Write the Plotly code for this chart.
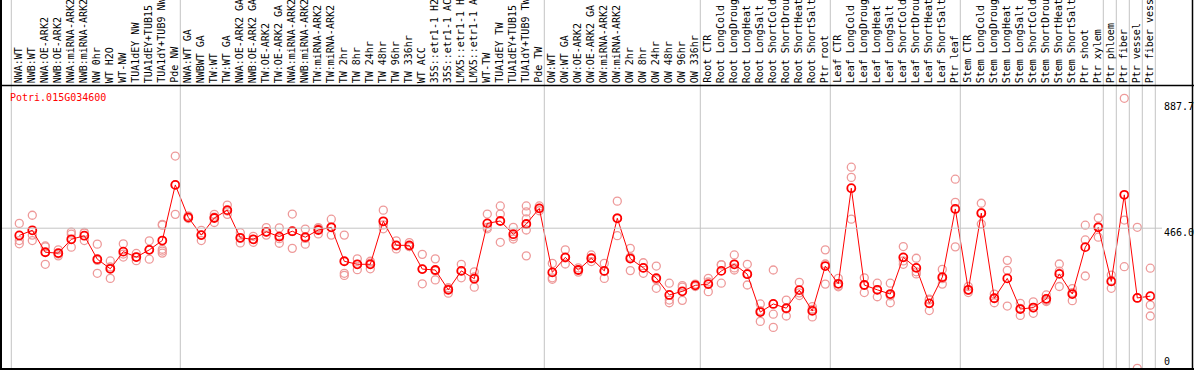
import plotly.graph_objects as go

gene = "Potri.015G034600"

labels = [
    "NWA:WT", "NWB:WT", "NWA:OE-ARK2", "NWB:OE-ARK2", "NWA:miRNA-ARK2", "NWB:miRNA-ARK2",
    "NW 0hr", "WT H2O", "WT-NW", "TUA1dEY NW", "TUA1dEY+TUB15", "TUA1dY+TUB9 NW", "Pde NW",
    "NWA:WT GA", "NWBWT GA", "TW:WT", "TW:WT GA", "NWA:OE-ARK2 GA", "NWB:OE-ARK2 GA",
    "TW:OE-ARK2", "TW:OE-ARK2 GA", "NWA:miRNA-ARK2 GA", "NWB:miRNA-ARK2 GA", "TW:miRNA-ARK2",
    "TW:miRNA-ARK2", "TW 2hr", "TW 8hr", "TW 24hr", "TW 48hr", "TW 96hr", "TW 336hr", "WT ACC",
    "35S::etr1-1 H2O", "35S::etr1-1 ACC", "LMX5::etr1-1 H2O", "LMX5::etr1-1 ACC", "WT-TW",
    "TUA1dEY TW", "TUA1dEY+TUB15", "TUA1dY+TUB9 TW", "Pde TW",
    "OW:WT", "OW:WT GA", "OW:OE-ARK2", "OW:OE-ARK2 GA", "OW:miRNA-ARK2", "OW:miRNA-ARK2",
    "OW 2hr", "OW 8hr", "OW 24hr", "OW 48hr", "OW 96hr", "OW 336hr",
    "Root CTR", "Root LongCold", "Root LongDrought", "Root LongHeat", "Root LongSalt",
    "Root ShortCold", "Root ShortDrought", "Root ShortHeat", "Root ShortSalt", "Ptr root",
    "Leaf CTR", "Leaf LongCold", "Leaf LongDrought", "Leaf LongHeat", "Leaf LongSalt",
    "Leaf ShortCold", "Leaf ShortDrought", "Leaf ShortHeat", "Leaf ShortSalt", "Ptr leaf",
    "Stem CTR", "Stem LongCold", "Stem LongDrought", "Stem LongHeat", "Stem LongSalt",
    "Stem ShortCold", "Stem ShortDrought", "Stem ShortHeat", "Stem ShortSalt", "Ptr shoot",
    "Ptr xylem", "Ptr phloem", "Ptr fiber", "Ptr vessel", "Ptr fiber vessel",
]

means = [
    442, 459, 386, 383, 429, 441, 363, 331, 388, 370,
    394, 425, 610, 502, 443, 500, 526, 434, 429, 454,
    438, 456, 436, 460, 469, 356, 346, 346, 489, 409,
    409, 330, 327, 261, 324, 298, 482, 490, 446, 480,
    532, 319, 369, 327, 366, 324, 499, 365, 334, 300,
    244, 256, 276, 280, 324, 346, 313, 187, 214, 200,
    260, 191, 340, 281, 599, 277, 261, 247, 369, 334,
    216, 303, 530, 261, 516, 233, 299, 197, 202, 231,
    314, 247, 403, 469, 289, 577, 234, 240,
]

replicates = [
    [482, 425, 414], [509, 443, 425], [407, 404, 346], [394, 380, 374], [453, 446, 403],
    [452, 450, 425], [413, 359, 316], [357, 337, 299], [414, 380, 370], [382, 370, 358],
    [424, 395, 363], [479, 476, 396, 390, 383], [706, 610, 512], [507, 502, 498], [459, 443, 425],
    [512, 503, 485], [543, 523, 512], [451, 432, 417], [439, 429, 419], [468, 453, 443],
    [467, 431, 416], [513, 455, 399], [463, 432, 413], [468, 465, 447], [496, 469, 443],
    [443, 316, 309], [364, 346, 328], [356, 350, 331], [526, 477, 464], [424, 407, 397],
    [418, 405, 405], [379, 330, 281], [364, 324, 294], [268, 264, 250], [346, 324, 301],
    [321, 304, 270], [513, 469, 464], [540, 513, 419], [469, 438, 430], [540, 520, 497, 460, 374],
    [540, 532, 524], [349, 301, 296], [394, 367, 347], [334, 327, 320], [377, 366, 355],
    [349, 322, 299], [556, 500, 441], [399, 370, 325], [351, 334, 316], [340, 295, 266],
    [283, 227, 218], [275, 270, 226], [280, 276, 272], [299, 287, 255], [345, 344, 283],
    [377, 334, 327], [346, 315, 277], [214, 192, 156], [327, 180, 136], [227, 197, 174],
    [286, 251, 242], [205, 196, 171], [394, 347, 280], [299, 274, 271], [669, 635, 496],
    [301, 278, 252], [283, 261, 238], [283, 241, 218], [405, 357, 346], [366, 321, 314],
    [230, 227, 192], [329, 298, 280], [629, 552, 404], [272, 259, 252], [549, 518, 480],
    [247, 233, 218], [359, 326, 207], [216, 199, 176], [221, 201, 183], [244, 226, 222],
    [347, 323, 272], [265, 252, 225], [476, 427, 307], [500, 471, 436], [310, 292, 266],
    [898, 493, 338], [469, 234, 0], [333, 210, 174],
]

group_starts = [0, 13, 41, 53, 63, 73, 84, 85, 86, 87, 88]
y_tick_texts = ["887.7", "466.0", "0"]
ref_line = 466.0

W, H = 1194, 370
FONT = "DejaVu Sans Mono"

x_idx = list(range(len(labels)))
rx, ry = [], []
for i, reps in enumerate(replicates):
    for v in reps:
        rx.append(i)
        ry.append(v)

fig = go.Figure()
fig.add_trace(go.Scatter(
    x=rx, y=ry, mode="markers",
    marker=dict(symbol="circle-open", size=8, color="#ee9a9a", line=dict(width=1.3, color="#ee9a9a")),
    hoverinfo="skip",
))
fig.add_trace(go.Scatter(
    x=x_idx, y=means, mode="lines+markers",
    line=dict(color="#ff0000", width=1),
    marker=dict(symbol="circle-open", size=8, color="#ff0000", line=dict(width=1.8, color="#ff0000")),
))

px_per_col = 13.0
x0_px = 19.3
xr = [(0 - x0_px) / px_per_col, (W - x0_px) / px_per_col]
zero_px = 368.3
val_per_px = 466.0 / (368.3 - 228.2)
y_bottom_px = 368.5
yr = [(zero_px - y_bottom_px) * val_per_px, zero_px * val_per_px]


def py(p):
    return (H - p) / H


shapes = []
gray = "#c4c4c4"
for k in group_starts:
    shapes.append(dict(type="line", xref="x", yref="paper", x0=k - 8 / 13, x1=k - 8 / 13,
                       y0=py(369), y1=1, line=dict(color=gray, width=1)))
shapes.append(dict(type="line", xref="paper", yref="y", x0=1 / W, x1=1162 / W,
                   y0=ref_line, y1=ref_line, line=dict(color=gray, width=1)))
black = "#000000"
shapes.append(dict(type="line", xref="paper", yref="paper", x0=1 / W, x1=1 / W, y0=0, y1=1,
                   line=dict(color=black, width=2)))
shapes.append(dict(type="line", xref="paper", yref="paper", x0=1192.5 / W, x1=1192.5 / W, y0=0, y1=1,
                   line=dict(color=black, width=1.5)))
shapes.append(dict(type="line", xref="paper", yref="paper", x0=0, x1=1, y0=py(85.5), y1=py(85.5),
                   line=dict(color=black, width=1.5)))
shapes.append(dict(type="line", xref="paper", yref="paper", x0=0, x1=1, y0=py(369), y1=py(369),
                   line=dict(color=black, width=2)))

annotations = []
for i, lab in enumerate(labels):
    annotations.append(dict(x=i, y=py(84), xref="x", yref="paper", text=lab, textangle=-90,
                            showarrow=False, xanchor="center", yanchor="bottom", xshift=-1,
                            font=dict(family=FONT, size=10, color="black"), borderpad=0))
tick_px = [106.7, 232.3, 361.7]
for t, p in zip(y_tick_texts, tick_px):
    annotations.append(dict(x=1162.5 / W, y=py(p), xref="paper", yref="paper", text=t,
                            showarrow=False, xanchor="left", yanchor="middle",
                            font=dict(family=FONT, size=10, color="black"), borderpad=0))
annotations.append(dict(x=9 / W, y=py(97), xref="paper", yref="paper", text=gene,
                        showarrow=False, xanchor="left", yanchor="middle",
                        font=dict(family=FONT, size=10, color="#ff0000"), borderpad=0))

fig.update_layout(
    width=W, height=H, autosize=False,
    margin=dict(l=0, r=0, t=0, b=0, pad=0),
    paper_bgcolor="white", plot_bgcolor="white",
    showlegend=False,
    xaxis=dict(range=xr, domain=[0, 1], visible=False, fixedrange=True),
    yaxis=dict(range=yr, domain=[(H - y_bottom_px) / H, 1], visible=False, fixedrange=True),
    shapes=shapes, annotations=annotations,
)

fig.write_html(
    "out.html",
    config={"displayModeBar": False},
    post_script="document.body.style.margin='0';document.body.style.padding='0';"
                "document.body.style.overflow='hidden';document.documentElement.style.overflow='hidden';",
)
